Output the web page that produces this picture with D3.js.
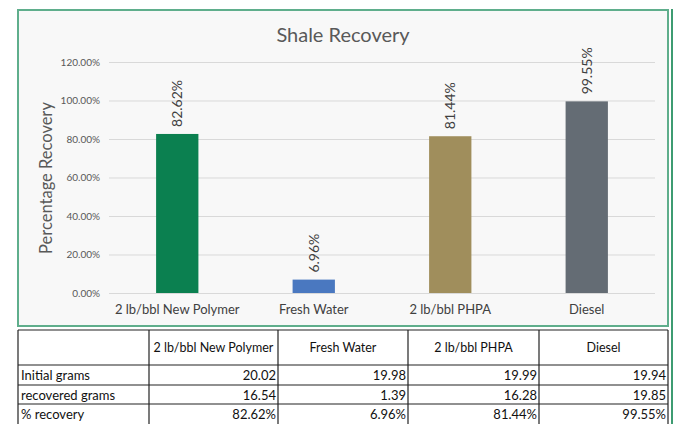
<!DOCTYPE html>
<html>
<head>
<meta charset="utf-8">
<script src="https://cdn.jsdelivr.net/npm/d3@7"></script>
<style>
  body { margin: 0; background: #fff; }
  svg { display: block; font-family: Lato, "Open Sans", sans-serif; }
</style>
</head>
<body>
<svg class="chart"></svg>
<script>
var categories = ["2 lb/bbl New Polymer", "Fresh Water", "2 lb/bbl PHPA", "Diesel"];
var recovery = [82.62, 6.96, 81.44, 99.55];
var initialGrams = ["20.02", "19.98", "19.99", "19.94"];
var recoveredGrams = ["16.54", "1.39", "16.28", "19.85"];
var recoveryText = ["82.62%", "6.96%", "81.44%", "99.55%"];
var yTicks = [0, 20, 40, 60, 80, 100, 120];
var rowLabels = ["Initial grams", "recovered grams", "% recovery"];
var barColors = ["#0b8050", "#4a78c0", "#a08e5c", "#646c74"];

let W = 679, H = 424;

var svg = d3.select(".chart")
            .attr("width", W)
            .attr("height", H);

// chart frame
svg.append("rect")
   .attr("x", 18).attr("y", 10)
   .attr("width", 650).attr("height", 316)
   .attr("fill", "#f8f8f8")
   .attr("stroke", "#5fae8c")
   .attr("stroke-width", 2);

// outer green line on the right
svg.append("line")
   .attr("x1", 672).attr("x2", 672)
   .attr("y1", 9).attr("y2", H)
   .attr("stroke", "#3e9c72")
   .attr("stroke-width", 2);

var xS = d3.scaleBand()
         .domain(categories)
         .range([109, 655])
         .paddingInner(0.69)
         .paddingOuter(0.345);

var yS = d3.scaleLinear()
         .domain([0, 120])
         .range([293, 62]);

// gridlines + tick labels
svg.append("g")
   .attr("transform", "translate(109,0)")
   .call(d3.axisLeft(yS).tickValues(yTicks).tickSize(-546).tickPadding(9)
           .tickFormat(d => d.toFixed(2) + "%"))
   .call(g => g.select(".domain").remove())
   .call(g => g.selectAll(".tick line").attr("stroke", "#d9d9d9"))
   .call(g => g.selectAll(".tick text")
               .attr("fill", "#595959")
               .attr("font-size", "10px")
               .attr("font-family", "Lato, sans-serif"));

// category labels
svg.append("g")
   .attr("transform", "translate(0,293)")
   .call(d3.axisBottom(xS).tickSize(0).tickPadding(12))
   .call(g => g.select(".domain").remove())
   .call(g => g.selectAll(".tick text")
               .attr("fill", "#404040")
               .attr("font-size", "13px")
               .attr("font-family", "Lato, sans-serif"));

// bars
svg.selectAll(".bar")
   .data(recovery)
   .enter().append("rect")
   .attr("class", "bar")
   .attr("x", (d, i) => xS(categories[i]))
   .attr("y", d => yS(d))
   .attr("width", xS.bandwidth())
   .attr("height", d => yS(0) - yS(d))
   .attr("fill", (d, i) => barColors[i]);

// data labels
svg.selectAll(".lbl")
   .data(recovery)
   .enter().append("text")
   .attr("class", "lbl")
   .attr("transform", (d, i) => "translate(" + (xS(categories[i]) + xS.bandwidth() / 2 + 5) + "," + (yS(d) - 7) + ") rotate(-90)")
   .attr("font-size", "14px")
   .attr("fill", "#404040")
   .text(d => d.toFixed(2) + "%");

// title
svg.append("text")
   .attr("x", 343).attr("y", 42)
   .attr("text-anchor", "middle")
   .attr("font-size", "20px")
   .attr("fill", "#595959")
   .text("Shale Recovery");

// y axis title
svg.append("text")
   .attr("transform", "translate(52,178) rotate(-90)")
   .attr("text-anchor", "middle")
   .attr("font-size", "16.5px")
   .attr("fill", "#595959")
   .text("Percentage Recovery");

// table below
var colX = [18, 149, 278, 408, 539, 668];
var rowY = [330, 365, 385, 404, 424];

var t = svg.append("g");
t.append("rect").attr("x", 18).attr("y", 330).attr("width", 650).attr("height", 100)
 .attr("fill", "#fff");

colX.forEach(x => {
  t.append("line").attr("x1", x).attr("x2", x).attr("y1", 330).attr("y2", H)
   .attr("stroke", "#222").attr("stroke-width", 1.2);
});
rowY.slice(0, 4).forEach(y => {
  t.append("line").attr("x1", 18).attr("x2", 668).attr("y1", y).attr("y2", y)
   .attr("stroke", "#222").attr("stroke-width", 1.2);
});

categories.forEach((c, i) => {
  t.append("text")
   .attr("x", (colX[i + 1] + colX[i + 2]) / 2).attr("y", 352)
   .attr("text-anchor", "middle")
   .attr("font-size", "12.5px")
   .attr("fill", "#111")
   .text(c);
});

var rows = [initialGrams, recoveredGrams, recoveryText];
rows.forEach((r, j) => {
  var yb = rowY[j + 1] + 15;
  t.append("text")
   .attr("x", 21).attr("y", yb)
   .attr("font-size", "13px")
   .attr("fill", "#111")
   .text(rowLabels[j]);
  r.forEach((v, i) => {
    t.append("text")
     .attr("x", colX[i + 2] - 2).attr("y", yb)
     .attr("text-anchor", "end")
     .attr("font-size", "13px")
     .attr("fill", "#111")
     .text(v);
  });
});
</script>
</body>
</html>
